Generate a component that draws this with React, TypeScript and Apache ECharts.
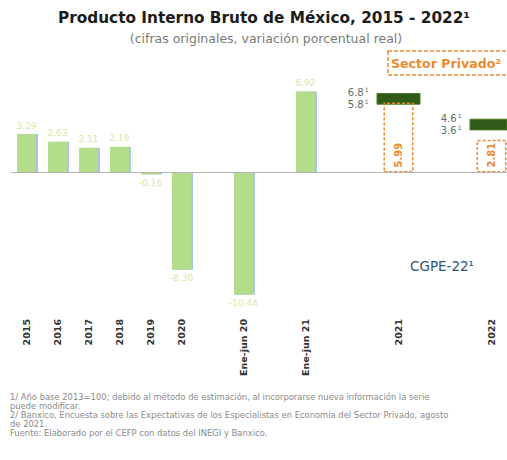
import React, { useEffect, useRef } from "react";
import * as echarts from "echarts";

const categories = ["2015", "2016", "2017", "2018", "2019", "2020", "", "Ene-jun 20", "", "Ene-jun 21", "", "", "2021", "", "", "2022"];
const pibValues: (number | null)[] = [3.29, 2.63, 2.11, 2.19, -0.16, -8.3, null, -10.44, null, 6.92, null, null, null, null, null, null];
const privadoValues: (number | null)[] = [null, null, null, null, null, null, null, null, null, null, null, null, 5.99, null, null, 2.81];
const rangeLow: (number | null)[] = [null, null, null, null, null, null, null, null, null, null, null, null, 5.8, null, null, 3.6];
const rangeHigh: (number | null)[] = [null, null, null, null, null, null, null, null, null, null, null, null, 6.8, null, null, 4.6];

const footnotes = [
  "1/ Año base 2013=100; debido al método de estimación, al incorporarse nueva información la serie",
  "puede modificar.",
  "2/ Banxico, Encuesta sobre las Expectativas de los Especialistas en Economía del Sector Privado, agosto",
  "de 2021.",
  "Fuente: Elaborado por el CEFP con datos del INEGI y Banxico.",
];

const FONT = "DejaVu Sans";
const ORANGE = "#ec8a2e";

export default function App() {
  const ref = useRef<HTMLDivElement>(null);
  useEffect(() => {
    if (!ref.current) return;
    const chart = echarts.init(ref.current, null, { renderer: "svg" });
    const xAxisBase = {
      type: "category" as const,
      data: categories,
      axisLine: { show: false, onZero: false },
      axisTick: { show: false },
    };
    const option: any = {
      animation: false,
      grid: { left: 11, right: 0, top: 55.5, bottom: 147 },
      xAxis: [
        {
          ...xAxisBase,
          axisLabel: {
            interval: 0,
            rotate: 90,
            margin: 6,
            fontFamily: FONT,
            fontWeight: "bold",
            fontSize: 9.5,
            color: "#333",
          },
        },
        { ...xAxisBase, show: false },
        { ...xAxisBase, show: false },
      ],
      yAxis: { type: "value", min: -12, max: 10, show: false },
      series: [
        {
          type: "bar",
          xAxisIndex: 0,
          barWidth: 19,
          z: 2,
          data: pibValues.map((v) =>
            v === null
              ? null
              : {
                  value: v,
                  label: { position: v < 0 ? "bottom" : "top" },
                }
          ),
          itemStyle: {
            color: "#b3dc8b",
            shadowColor: "#a8c3ec",
            shadowOffsetX: 2,
            shadowOffsetY: 0,
            shadowBlur: 0,
          },
          label: {
            show: true,
            fontFamily: FONT,
            fontSize: 9,
            color: "#dbe7a6",
            distance: 4,
            formatter: (p: any) => Number(p.value).toFixed(2),
          },
          markLine: {
            silent: true,
            symbol: "none",
            label: { show: false },
            lineStyle: { color: "#b4b4b4", width: 1, type: "solid" },
            data: [{ yAxis: 0 }],
          },
        },
        {
          type: "bar",
          xAxisIndex: 2,
          stack: "range",
          barWidth: 44,
          z: 3,
          itemStyle: { color: "transparent" },
          data: rangeLow,
        },
        {
          type: "bar",
          xAxisIndex: 2,
          stack: "range",
          barWidth: 44,
          z: 3,
          itemStyle: { color: "#2f5a17", borderColor: "#4d7a25", borderWidth: 1 },
          data: rangeHigh.map((h, i) => (h === null || rangeLow[i] === null ? null : +(h - (rangeLow[i] as number)).toFixed(2))),
          label: {
            show: true,
            position: "left",
            distance: 8,
            lineHeight: 12,
            formatter: (p: any) => {
              const i = p.dataIndex;
              return `{a|${(rangeHigh[i] as number).toFixed(1)}}{s|1}\n{a|${(rangeLow[i] as number).toFixed(1)}}{s|1}`;
            },
            rich: {
              a: { fontFamily: FONT, fontSize: 10, color: "#5e6f62", lineHeight: 12 },
              s: { fontFamily: FONT, fontSize: 6, color: "#5e6f62", verticalAlign: "top", lineHeight: 12, padding: [0, 0, 5, 1] },
            },
          },
        },
        {
          type: "bar",
          xAxisIndex: 1,
          barWidth: 30,
          z: 4,
          data: privadoValues,
          itemStyle: {
            color: "rgba(0,0,0,0)",
            borderColor: ORANGE,
            borderWidth: 1.5,
            borderType: [3, 2],
          },
          label: {
            show: true,
            position: "insideBottom",
            rotate: 90,
            align: "left",
            verticalAlign: "middle",
            distance: 5,
            fontFamily: FONT,
            fontWeight: "bold",
            fontSize: 10,
            color: ORANGE,
            formatter: (p: any) => Number(p.value).toFixed(2),
          },
        },
      ],
      graphic: [
        {
          type: "text",
          x: 264,
          y: 18,
          style: {
            text: "Producto Interno Bruto de México, 2015 - 2022¹",
            font: `bold 15.3px "${FONT}"`,
            fill: "#1c1c1c",
            align: "center",
            verticalAlign: "middle",
          },
        },
        {
          type: "text",
          x: 266,
          y: 38,
          style: {
            text: "(cifras originales, variación porcentual real)",
            font: `12.5px "${FONT}"`,
            fill: "#7a7a7a",
            align: "center",
            verticalAlign: "middle",
          },
        },
        {
          type: "rect",
          shape: { x: 388, y: 51, width: 125, height: 24 },
          style: { fill: "none", stroke: ORANGE, lineWidth: 1.5, lineDash: [4, 2] },
        },
        {
          type: "text",
          x: 391,
          y: 63,
          style: {
            text: "Sector Privado²",
            font: `bold 12.6px "${FONT}"`,
            fill: ORANGE,
            align: "left",
            verticalAlign: "middle",
          },
        },
        {
          type: "text",
          x: 410,
          y: 266,
          style: {
            text: "CGPE-22¹",
            font: `13.5px "${FONT}"`,
            fill: "#2f5670",
            align: "left",
            verticalAlign: "middle",
          },
        },
        ...footnotes.map((t, i) => ({
          type: "text",
          x: 10,
          y: 397 + i * 9,
          style: {
            text: t,
            font: `8.4px "${FONT}"`,
            fill: "#8a8a8a",
            align: "left",
            verticalAlign: "middle",
          },
        })),
      ],
    };
    chart.setOption(option);
    return () => chart.dispose();
  }, []);
  return <div ref={ref} style={{ position: "fixed", left: 0, top: 0, width: 507, height: 460, background: "#fff" }} />;
}
